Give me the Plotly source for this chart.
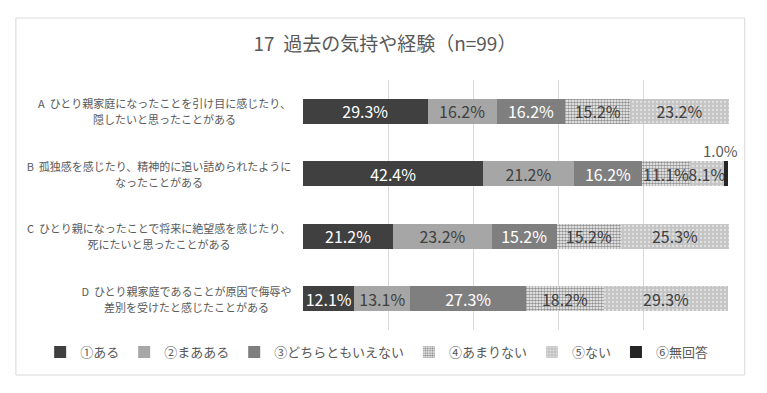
import plotly.graph_objects as go

cat_line1 = [
    "A  ひとり親家庭になったことを引け目に感じたり、",
    "B  孤独感を感じたり、精神的に追い詰められたように",
    "C  ひとり親になったことで将来に絶望感を感じたり、",
    "D  ひとり親家庭であることが原因で侮辱や",
]
cat_line2 = [
    "隠したいと思ったことがある",
    "なったことがある",
    "死にたいと思ったことがある",
    "差別を受けたと感じたことがある",
]
cat_keys = ["A", "B", "C", "D"]
series_names = ["①ある", "②まあある", "③どちらともいえない", "④あまりない", "⑤ない", "⑥無回答"]
s1 = [29.3, 42.4, 21.2, 12.1]
s2 = [16.2, 21.2, 23.2, 13.1]
s3 = [16.2, 16.2, 15.2, 27.3]
s4 = [15.2, 11.1, 15.2, 18.2]
s5 = [23.2, 8.1, 25.3, 29.3]
s6 = [0.0, 1.0, 0.0, 0.0]
series_values = [s1, s2, s3, s4, s5, s6]
title_text = "17  過去の気持や経験（n=99）"

FONT = "Noto Sans CJK JP, Noto Sans, sans-serif"
GRAY = "#595959"
LABEL_SIZE = 11

W, H = 759, 377  # page body has an 8px margin


def est_width(s, size=LABEL_SIZE):
    w = 0.0
    for ch in s:
        if ord(ch) > 0x2E80:
            w += size
        elif ch == " ":
            w += size * 0.26
        else:
            w += size * 0.66
    return w


styles = [
    dict(color="#404040", pattern=None, tc="#ffffff"),
    dict(color="#a6a6a6", pattern=None, tc="#404040"),
    dict(color="#7f7f7f", pattern=None, tc="#ffffff"),
    dict(color="#ffffff", pattern=dict(shape=".", fgcolor="#262626", bgcolor="#ffffff", size=3, solidity=0.6, fillmode="overlay"), tc="#404040"),
    dict(color="#c4c4c4", pattern=dict(shape=".", fgcolor="#ffffff", bgcolor="#c4c4c4", size=4, solidity=0.25, fillmode="overlay"), tc="#404040"),
    dict(color="#262626", pattern=None, tc="#404040"),
]

fig = go.Figure()
for i, (name, vals) in enumerate(zip(series_names, series_values)):
    st = styles[i]
    marker = dict(color=st["color"], line=dict(width=0))
    if st["pattern"]:
        marker["pattern"] = st["pattern"]
    texts = [f"{v:.1f}%" if (v > 0 and i < 5) else "" for v in vals]
    fig.add_trace(go.Bar(
        y=cat_keys, x=vals, name=name, orientation="h", marker=marker,
        text=texts, textposition="inside", insidetextanchor="middle", textangle=0,
        textfont=dict(size=16, color=st["tc"], family=FONT),
        cliponaxis=False,
    ))

# outside label for the small no-answer segment
for j, k in enumerate(cat_keys):
    if s6[j] > 0:
        total = s1[j] + s2[j] + s3[j] + s4[j] + s5[j] + s6[j]
        fig.add_annotation(x=total, y=k, text=f"{s6[j]:.1f}%", showarrow=False,
                           yshift=11, xshift=-8, xanchor="center", yanchor="bottom",
                           font=dict(size=15, color=GRAY, family=FONT))

# category labels: two centred lines, block right-aligned to the plot
for k, l1, l2 in zip(cat_keys, cat_line1, cat_line2):
    box = max(est_width(l1), est_width(l2)) + 4
    for txt, ys in ((l1, 8), (l2, -8)):
        fig.add_annotation(x=0, xref="paper", y=k, yref="y", text=txt, showarrow=False,
                           xanchor="right", align="center", xshift=-8, yshift=ys,
                           width=box, borderpad=0,
                           font=dict(size=LABEL_SIZE, color=GRAY, family=FONT))

# outer frame
fig.add_shape(type="rect", xref="paper", yref="paper", x0=-0.674, x1=1.037, y0=-0.18, y1=1.248,
              line=dict(color="#d9d9d9", width=1), fillcolor="rgba(0,0,0,0)", layer="below")

fig.update_layout(
    barmode="stack", bargap=0.6,
    width=W, height=H,
    margin=dict(l=295, r=38, t=72, b=55, autoexpand=False),
    paper_bgcolor="white", plot_bgcolor="white",
    title=dict(text=title_text, x=377 / W, xref="container", xanchor="center",
               y=1 - 36 / H, yanchor="middle",
               font=dict(size=19, color=GRAY, family=FONT)),
    font=dict(family=FONT, color=GRAY),
    uniformtext=dict(minsize=16, mode="show"),
    showlegend=True,
    legend=dict(orientation="h", xref="paper", x=-0.617, xanchor="left",
                y=-0.088, yanchor="middle",
                font=dict(size=13, color=GRAY, family=FONT), traceorder="normal",
                itemwidth=30, bgcolor="rgba(0,0,0,0)"),
    xaxis=dict(range=[0, 100.15], tickvals=[0, 20, 40, 60, 80, 100], showgrid=True,
               gridcolor="#d9d9d9", gridwidth=1,
               showticklabels=False, zeroline=False, showline=False, fixedrange=True),
    yaxis=dict(categoryorder="array", categoryarray=cat_keys, autorange="reversed",
               showticklabels=False, showgrid=False, zeroline=False, showline=False),
)

fig.write_html("out.html")
